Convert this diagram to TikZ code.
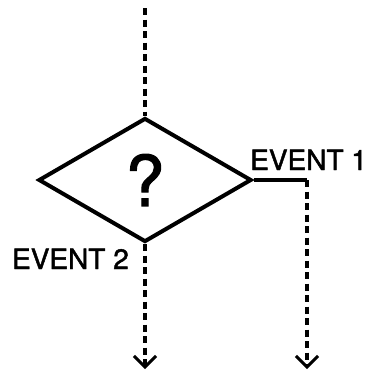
\documentclass[tikz,border=0pt]{standalone}
\usepackage{fontspec}
\setmainfont{TeX Gyre Heros}
\newfontfamily\heavysans[FakeBold=1.6]{TeX Gyre Heros}
\usetikzlibrary{arrows.meta,positioning,shapes.geometric}

\begin{document}
\begin{tikzpicture}[
  x=1pt, y=-1pt,
  decision/.style={diamond, draw=black, line width=4pt, aspect=1.72,
    minimum width=213pt, minimum height=124pt, inner sep=0pt,
    font=\heavysans\fontsize{70}{72}\selectfont},
  lbl/.style={font=\heavysans\fontsize{28}{30}\selectfont, inner sep=0pt},
  solidline/.style={line width=3.8pt, draw=black},
  dashline/.style={line width=3.2pt, draw=black,
    dash pattern=on 7pt off 4.5pt},
  flowarrow/.style={dashline,
    -{Straight Barb[length=11pt, width=22pt, line width=3pt]}},
]
\useasboundingbox (0,0) rectangle (366,373);
% decision diamond
\node[decision] (q) at (145,180) {?};
\coordinate (top) at (145,8);
\coordinate (turn) at (307,180);
\coordinate (endtwo) at (145,369);
\coordinate (endone) at (307,369);
% connectors
\draw[dashline] (top) -- (q.north);
\draw[solidline] (q.east) -- (turn);
\draw[flowarrow] (turn) -- (endone);
\draw[flowarrow] (q.south) -- (endtwo);
% event labels
\node[lbl, anchor=base west] (evone) at ([shift={(-3.5pt,10pt)}]q.east) {EVENT 1};
\node[lbl, anchor=base east] (evtwo) at ([shift={(-16pt,-25pt)}]q.south) {EVENT 2};
\end{tikzpicture}
\end{document}
